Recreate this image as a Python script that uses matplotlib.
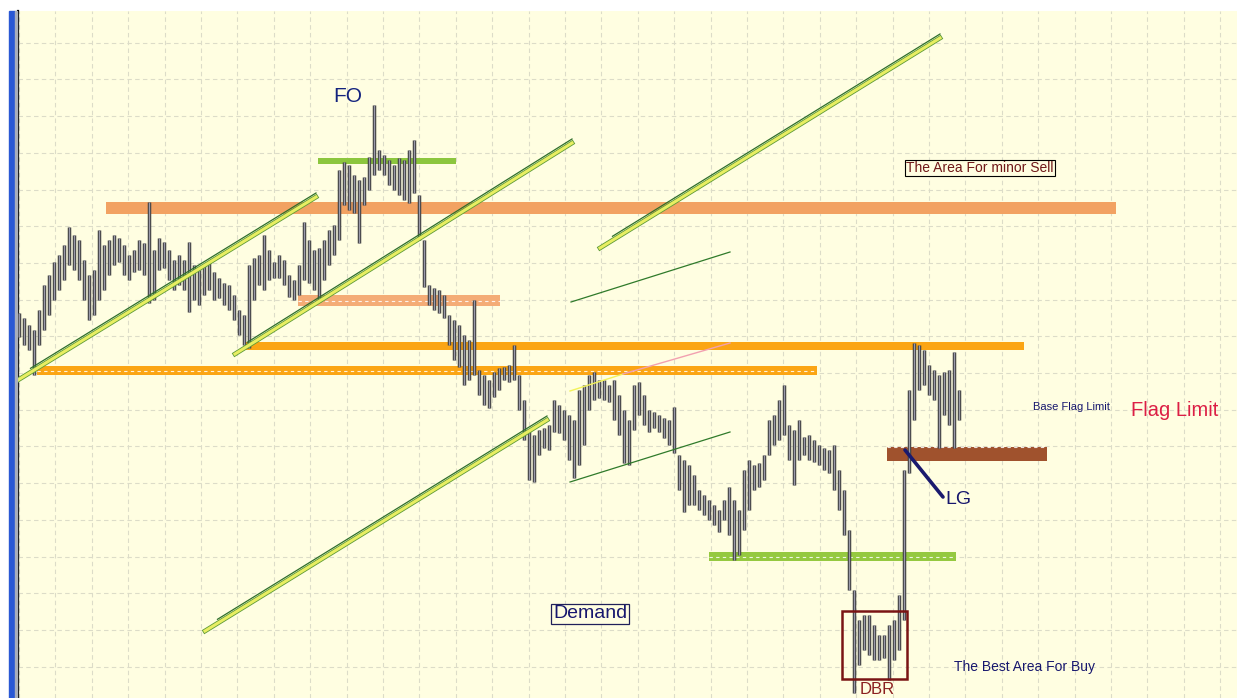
import matplotlib
matplotlib.use("Agg")
import matplotlib.pyplot as plt
import matplotlib.patheffects as pe
import numpy as np
from matplotlib.patches import Rectangle
from matplotlib.ticker import MultipleLocator, FixedLocator

# price bars, one per session (points)
highs = [385, 380, 373, 368, 388, 413, 423, 436, 443, 453,
         471, 463, 458, 438, 423, 428, 468, 453, 458, 463,
         460, 453, 443, 448, 458, 455, 496, 448, 460, 456,
         448, 438, 443, 438, 456, 433, 428, 433, 436, 426,
         420, 415, 413, 403, 388, 383, 433, 440, 443, 463,
         448, 436, 443, 438, 423, 418, 433, 476, 458, 448,
         450, 458, 468, 473, 528, 536, 533, 523, 518, 521,
         541, 593, 548, 543, 538, 533, 540, 538, 548, 558,
         503, 458, 413, 410, 408, 403, 383, 378, 373, 363,
         358, 398, 328, 323, 318, 326, 330, 331, 333, 353,
         323, 298, 268, 263, 268, 270, 273, 298, 293, 288,
         283, 278, 308, 313, 323, 326, 318, 318, 313, 318,
         303, 288, 278, 313, 316, 303, 288, 286, 283, 280,
         278, 291, 243, 238, 233, 223, 208, 203, 198, 193,
         188, 198, 211, 198, 188, 228, 238, 233, 235, 243,
         278, 283, 298, 313, 273, 268, 278, 261, 263, 258,
         253, 250, 248, 253, 228, 208, 168, 108, 78, 83,
         83, 73, 63, 63, 73, 78, 103, 228, 308, 355,
         353, 348, 333, 328, 323, 326, 328, 346, 308]
lows = [361, 353, 348, 323, 353, 368, 383, 398, 408, 418,
        433, 428, 418, 398, 378, 383, 398, 408, 423, 433,
        436, 423, 418, 426, 428, 423, 395, 398, 428, 430,
        418, 408, 413, 408, 386, 398, 393, 403, 408, 398,
        400, 393, 388, 378, 363, 353, 350, 398, 413, 408,
        418, 420, 420, 413, 401, 398, 403, 418, 415, 408,
        396, 418, 433, 443, 458, 493, 488, 485, 455, 493,
        508, 523, 528, 523, 513, 508, 503, 498, 495, 505,
        458, 411, 393, 388, 385, 380, 353, 338, 331, 313,
        318, 323, 303, 293, 290, 301, 308, 318, 316, 318,
        288, 258, 218, 216, 243, 250, 248, 266, 265, 258,
        238, 220, 233, 253, 288, 298, 300, 298, 296, 278,
        263, 235, 233, 268, 283, 273, 266, 270, 266, 260,
        253, 245, 208, 186, 193, 193, 188, 183, 178, 173,
        166, 178, 163, 138, 143, 168, 188, 208, 211, 218,
        243, 253, 258, 263, 238, 213, 238, 243, 238, 236,
        233, 228, 225, 208, 188, 163, 108, 5, 33, 48,
        43, 38, 38, 40, 18, 38, 48, 78, 225, 278,
        308, 313, 303, 298, 250, 283, 273, 250, 278]

# supply / demand zones: bar range and price range
zone_names = ["fo", "minor_sell", "small_base", "upper", "lower", "flag_base", "demand"]
zone_from = [59.8, 17.4, 55.8, 45.2, 3.6, 173.6, 138.0]
zone_to = [87.4, 219.4, 96.2, 201.0, 159.6, 205.6, 187.4]
zone_low = [534, 484, 392, 348, 323, 237, 137]
zone_high = [540, 496, 403, 356, 332, 251, 146]

# channel lines (double), bar -> price
chan_x = [(-0.2, 59.4), (43.2, 110.6), (37.2, 105.6), (116.2, 184.2)]
chan_y = [(318, 501), (344, 555), (67, 278), (450, 660)]

# thin trend lines
thin_x = [(110.4, 142.2), (110.2, 142.2)]
thin_y = [(396, 446), (216, 266)]
fib_x = [110.2, 120.8, 142.2]
fib_y = [307, 324, 355]

# LG pointer and DBR box
lg_x = [177.2, 184.8]
lg_y = [248, 201]
dbr_x = (164.6, 177.6)
dbr_y = (19, 87)

zone_style = {
    "fo": ("#8CC63E", False),
    "minor_sell": ("#F2A262", False),
    "small_base": ("#F4AC76", True),
    "upper": ("#FBA514", False),
    "lower": ("#FBA514", True),
    "flag_base": ("#A0522D", False),
    "demand": ("#95C940", True),
}

plt.rcParams["font.family"] = ["Liberation Sans", "DejaVu Sans"]

fig = plt.figure(figsize=(12.37, 6.98), dpi=100, facecolor="white")
ax = fig.add_axes([18 / 1237, 0, 1 - 18 / 1237, 687 / 698])
ax.set_facecolor("#FFFEE1")
ax.set_xlim(-0.2, 243.6)
ax.set_ylim(0, 687)

# window frame strip on the left
fig.patches.append(Rectangle((9 / 1237, 0), 6 / 1237, 687 / 698,
                             transform=fig.transFigure, color="#2A58D4", zorder=0))
fig.patches.append(Rectangle((15 / 1237, 0), 2 / 1237, 687 / 698,
                             transform=fig.transFigure, color="#A9AEBB", zorder=0))

for s in ["top", "right", "bottom"]:
    ax.spines[s].set_visible(False)
ax.spines["left"].set_color("black")
ax.spines["left"].set_linewidth(1.6)

ax.xaxis.set_major_locator(MultipleLocator(7.28))
ax.yaxis.set_major_locator(FixedLocator(np.arange(31.4, 687, 36.7)))
ax.tick_params(length=0, labelbottom=False, labelleft=False)
ax.grid(True, color="#DCDCC8", linestyle=(0, (4, 3)), linewidth=0.8)
ax.set_axisbelow(True)

# zones
for name, x0, x1, lo, hi in zip(zone_names, zone_from, zone_to, zone_low, zone_high):
    color, dashed = zone_style[name]
    ax.add_patch(Rectangle((x0, lo), x1 - x0, hi - lo, facecolor=color,
                           edgecolor="none", zorder=2))
    if dashed:
        mid = (lo + hi) / 2
        ax.plot([x0, x1], [mid, mid], color="white", lw=0.8,
                ls=(0, (3, 3)), alpha=0.85, zorder=2.1)
    if name == "flag_base":
        ax.plot([x0, x1], [hi, hi], color="white", lw=0.8,
                ls=(0, (3, 3)), alpha=0.85, zorder=2.1)

# price bars: light body with dark outline, like the terminal's bar chart
bars = np.arange(len(highs))
ax.vlines(bars, lows, highs, color="#9A9AAA", lw=1.0, zorder=3,
          path_effects=[pe.withStroke(linewidth=2.5, foreground="#3A3A3A")])

# channel lines
for (x0, x1), (y0, y1) in zip(chan_x, chan_y):
    ax.plot([x0, x1], [y0, y1], color="#E8EE62", lw=2.2, zorder=4,
            path_effects=[pe.withStroke(linewidth=3.4, foreground="#5E9A38")])
    ax.plot([x0 + 2.5, x1], [y0 + 4 + 2.5 * (y1 - y0) / (x1 - x0), y1 + 4],
            color="#2F6F2A", lw=0.9, zorder=4)

for (x0, x1), (y0, y1) in zip(thin_x, thin_y):
    ax.plot([x0, x1], [y0, y1], color="#2F7A2A", lw=0.9, zorder=4)
ax.plot(fib_x[:2], fib_y[:2], color="#F2F25A", lw=1.0, zorder=4)
ax.plot(fib_x[1:], fib_y[1:], color="#F2A0B0", lw=1.0, zorder=4)

# LG pointer
ax.plot(lg_x, lg_y, color="#1A1A6E", lw=2.6, zorder=5, solid_capstyle="round")

# DBR box
ax.add_patch(Rectangle((dbr_x[0], dbr_y[0]), dbr_x[1] - dbr_x[0], dbr_y[1] - dbr_y[0],
                       fill=False, edgecolor="#7A1414", lw=1.8, zorder=5))

# labels
navy = "#17176E"
ax.text(65.8, 601, "FO", color="#13237E", fontsize=15, ha="center", va="center", zorder=6)
ax.text(192.2, 530, "The Area For minor Sell", color="#701818", fontsize=10,
        ha="center", va="center", zorder=6,
        bbox=dict(boxstyle="square,pad=0.1", facecolor="#FFFEE1", edgecolor="black", lw=0.8))
ax.text(114.2, 84, "Demand", color=navy, fontsize=14, ha="center", va="center", zorder=6,
        bbox=dict(boxstyle="square,pad=0.08", facecolor="#FFFEE1", edgecolor="#20205A", lw=0.9))
ax.text(210.4, 291, "Base Flag Limit", color=navy, fontsize=8, ha="center", va="center", zorder=6)
ax.text(231.2, 288, "Flag Limit", color="#DC1F45", fontsize=14.5, ha="center", va="center", zorder=6)
ax.text(187.8, 198, "LG", color=navy, fontsize=14, ha="center", va="center", zorder=6)
ax.text(201.2, 31, "The Best Area For Buy", color=navy, fontsize=10, ha="center",
        va="center", zorder=6)
ax.text(171.6, 1, "DBR", color="#8B2020", fontsize=12, ha="center", va="bottom",
        zorder=6, clip_on=True)

fig.savefig("out.png", dpi=100, facecolor="white")
